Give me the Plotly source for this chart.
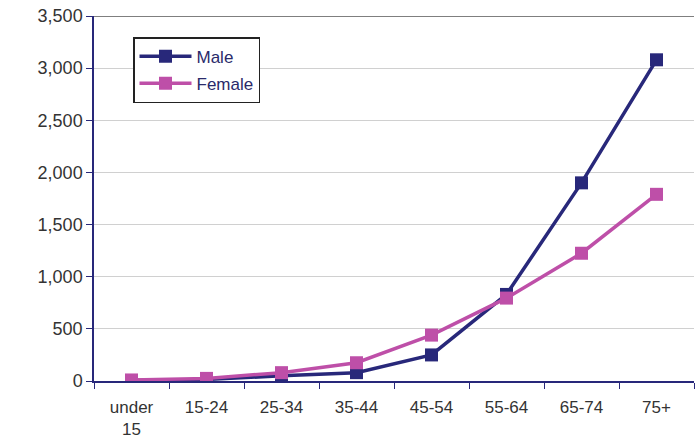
import plotly.graph_objects as go

categories = ["under<br>15", "15-24", "25-34", "35-44", "45-54", "55-64", "65-74", "75+"]
male = [5, 15, 50, 80, 250, 830, 1900, 3080]
female = [10, 25, 80, 175, 440, 795, 1225, 1790]
y_ticks = [0, 500, 1000, 1500, 2000, 2500, 3000, 3500]

navy = "#28287A"
pink = "#BE4FA8"

fig = go.Figure()
fig.add_trace(go.Scatter(x=categories, y=male, name="Male", mode="lines+markers",
                         legendgroup="m",
                         line=dict(color=navy, width=3.5),
                         marker=dict(symbol="square", size=13, color=navy)))
fig.add_trace(go.Scatter(x=categories, y=female, name="Female", mode="lines+markers",
                         legendgroup="f",
                         line=dict(color=pink, width=3.5),
                         marker=dict(symbol="square", size=13, color=pink)))

fig.update_layout(
    width=697, height=440,
    margin=dict(l=94, r=3, t=16, b=59),
    plot_bgcolor="white", paper_bgcolor="white",
    font=dict(family="Liberation Sans, Arial", size=17, color="#333333"),
    showlegend=True,
    legend=dict(x=0.065, y=0.942, xanchor="left", yanchor="top",
                bordercolor="#222222", borderwidth=1.5, bgcolor="white",
                font=dict(size=17, color="#2A2A6A"), itemwidth=52,
                traceorder="grouped", tracegroupgap=2),
)
fig.update_xaxes(
    type="category", showgrid=False, showline=True, linecolor=navy, linewidth=1.5,
    ticks="outside", tickson="boundaries", ticklen=6, tickcolor=navy,
    range=[-0.5, 7.5], tickfont=dict(size=17, color="#333333"),
    ticklabelstandoff=10, automargin=False,
)
fig.update_yaxes(
    range=[0, 3500], tickvals=y_ticks, tickformat=",d",
    showgrid=True, gridcolor="#D0D0D0", gridwidth=1,
    showline=True, linecolor=navy, linewidth=1.5,
    ticks="outside", ticklen=6, tickcolor=navy,
    tickfont=dict(size=18, color="#333333"), zeroline=False, automargin=False,
)
fig.add_shape(type="line", xref="paper", yref="y", x0=0, x1=1, y0=3500, y1=3500,
              line=dict(color="#555555", width=1.5))
fig.write_html("out.html", config={"displayModeBar": False},
               post_script="document.body.style.margin='0';")
